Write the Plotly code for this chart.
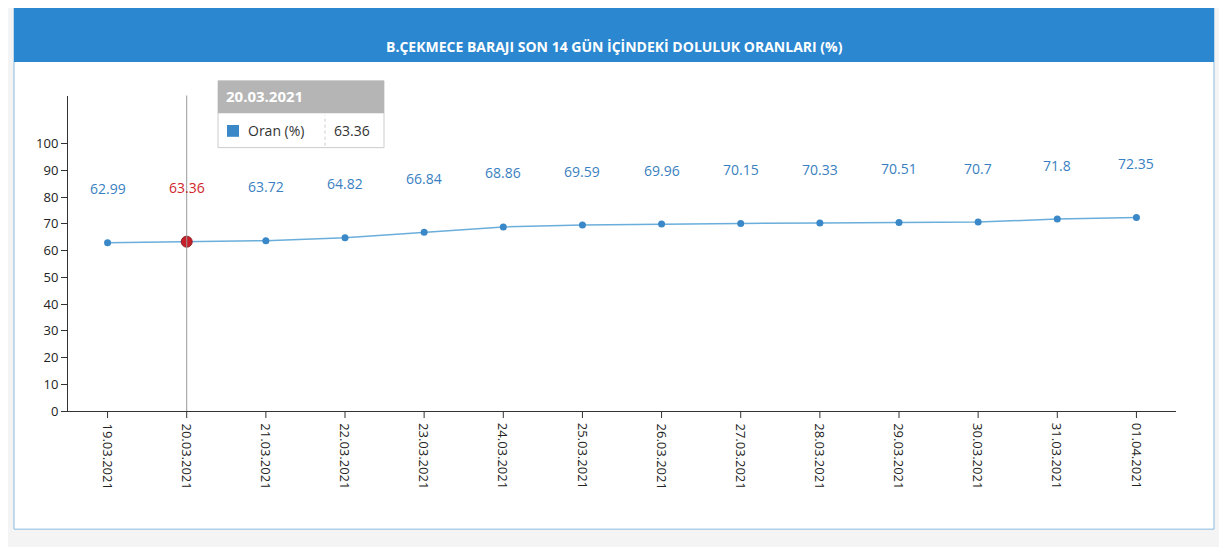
import plotly.graph_objects as go

dates = ["19.03.2021", "20.03.2021", "21.03.2021", "22.03.2021", "23.03.2021",
         "24.03.2021", "25.03.2021", "26.03.2021", "27.03.2021", "28.03.2021",
         "29.03.2021", "30.03.2021", "31.03.2021", "01.04.2021"]
oran = [62.99, 63.36, 63.72, 64.82, 66.84, 68.86, 69.59, 69.96, 70.15, 70.33,
        70.51, 70.7, 71.8, 72.35]
labels = ["62.99", "63.36", "63.72", "64.82", "66.84", "68.86", "69.59", "69.96",
          "70.15", "70.33", "70.51", "70.7", "71.8", "72.35"]
y_ticks = list(range(0, 101, 10))

OFF = 8  # page body margin
W, H = 1227 - 2 * OFF, 555 - 2 * OFF
def px(x): return (x - OFF) / W
def py(y): return 1 - (y - OFF) / H

blue = "#3a88c8"
hl = 1
idx = list(range(len(dates)))

fig = go.Figure()
fig.add_trace(go.Scatter(
    x=idx, y=oran, mode="lines+markers",
    line=dict(color="#6aaedb", width=1.5),
    marker=dict(color=blue, size=7),
    cliponaxis=False, hoverinfo="skip"))
fig.add_trace(go.Scatter(x=[hl], y=[oran[hl]], mode="markers",
                         marker=dict(color="#c8202a", size=11, line=dict(color="#8f1d22", width=1)),
                         hoverinfo="skip"))

for i in idx:
    fig.add_annotation(x=i, y=oran[i], text=labels[i], showarrow=False, yshift=54,
                       font=dict(size=14, color="#d0262b" if i == hl else "#3a7fc1"))
    fig.add_annotation(x=i, y=0, yref="y", text=dates[i], textangle=90, showarrow=False,
                       yshift=-10, yanchor="top", font=dict(size=13, color="#222"))

shapes = [
    dict(type="rect", xref="paper", yref="paper", x0=px(14), x1=px(1214), y0=py(538), y1=py(7),
         line=dict(color="#8bbbe0", width=1), fillcolor="white", layer="below"),
    dict(type="rect", xref="paper", yref="paper", x0=px(14), x1=px(1214), y0=py(63), y1=py(7),
         line=dict(width=0), fillcolor="#2a87d0", layer="below"),
    dict(type="line", xref="x", yref="paper", x0=hl, x1=hl, y0=py(418), y1=py(97),
         line=dict(color="#999", width=1)),
    dict(type="rect", xref="paper", yref="paper", x0=px(218), x1=px(384), y0=py(150), y1=py(82),
         line=dict(color="#ccc", width=1), fillcolor="white"),
    dict(type="rect", xref="paper", yref="paper", x0=px(218), x1=px(384), y0=py(115), y1=py(82),
         line=dict(width=0), fillcolor="#b5b5b5"),
    dict(type="rect", xref="paper", yref="paper", x0=px(227), x1=px(239), y0=py(139), y1=py(127),
         line=dict(width=0), fillcolor=blue),
    dict(type="line", xref="paper", yref="paper", x0=px(325), x1=px(325), y0=py(148), y1=py(117),
         line=dict(color="#ccc", width=1, dash="dot")),
]
for i in idx:
    shapes.append(dict(type="line", xref="x", yref="paper", x0=i, x1=i, y0=py(418), y1=py(425),
                       line=dict(color="#333", width=1)))

ann = [
    dict(text="<b>B.ÇEKMECE BARAJI SON 14 GÜN İÇİNDEKİ DOLULUK ORANLARI (%)</b>",
         x=px(614), y=py(35), xref="paper", yref="paper", showarrow=False,
         font=dict(color="white", size=14)),
    dict(text="<b>20.03.2021</b>", x=px(224), y=py(98), xanchor="left", yanchor="middle",
         xref="paper", yref="paper", showarrow=False, font=dict(color="white", size=15)),
    dict(text="Oran (%)", x=px(246), y=py(133), xanchor="left", yanchor="middle",
         xref="paper", yref="paper", showarrow=False, font=dict(color="#333", size=14)),
    dict(text="63.36", x=px(332), y=py(133), xanchor="left", yanchor="middle",
         xref="paper", yref="paper", showarrow=False, font=dict(color="#333", size=14)),
]
fig.layout.annotations = tuple(fig.layout.annotations) + tuple(ann)

fig.update_layout(
    width=W, height=H, margin=dict(l=0, r=0, t=0, b=0),
    paper_bgcolor="#f4f4f4", plot_bgcolor="rgba(0,0,0,0)",
    font=dict(family="Open Sans, sans-serif"),
    showlegend=False, shapes=shapes,
    xaxis=dict(domain=[px(68), px(1176)], range=[-0.5, 13.5], showticklabels=False,
               showgrid=False, zeroline=False, showline=True, linecolor="#333",
               ticks="", fixedrange=True),
    yaxis=dict(domain=[py(418), py(97)], range=[0, 118], tickvals=y_ticks,
               showgrid=False, zeroline=False, showline=True, linecolor="#333",
               ticks="outside", ticklen=6, tickcolor="#333",
               tickfont=dict(size=13, color="#222")),
)
fig.write_html("out.html")
